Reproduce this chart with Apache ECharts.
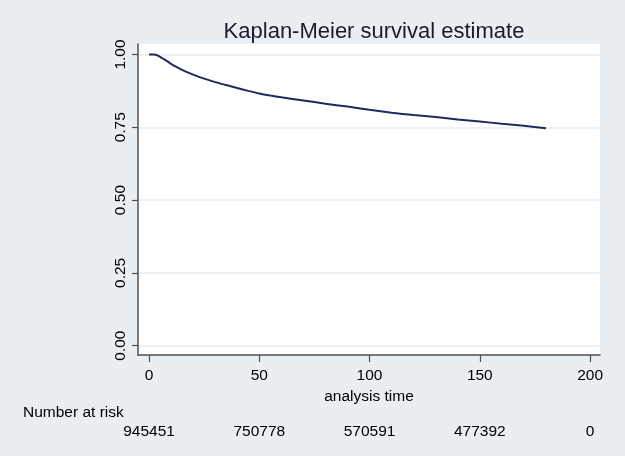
<!DOCTYPE html>
<html><head><meta charset="utf-8">
<script src="https://cdn.jsdelivr.net/npm/echarts@6/dist/echarts.min.js"></script>
<style>html,body{margin:0;padding:0;background:#e8eef1}#c{width:625px;height:456px}</style>
</head><body><div id="c"></div>
<script>
const titleText = 'Kaplan-Meier survival estimate';
const xAxisName = 'analysis time';
const riskLabel = 'Number at risk';
const timeValues = [0,1,2,3,4,5,6,8,10,12,15,18,20,25,30,35,40,45,50,55,60,70,80,90,100,110,120,130,140,150,160,170,180];
const survival   = [1,1,1,0.999,0.996,0.992,0.987,0.978,0.968,0.959,0.947,0.937,0.931,0.917,0.905,0.895,0.885,0.875,0.866,0.859,0.853,0.842,0.831,0.821,0.810,0.800,0.792,0.785,0.777,0.770,0.762,0.755,0.747];
const xTicks = [0,50,100,150,200];
const yTicks = [0,0.25,0.5,0.75,1];
const riskTimes = [0,50,100,150,200];
const numberAtRisk = [945451,750778,570591,477392,0];

const font = '"Liberation Sans", Arial, sans-serif';
const chart = echarts.init(document.getElementById('c'), null, {renderer:'canvas'});
const lineData = timeValues.map((t,i)=>[t, survival[i]]);
chart.setOption({
  backgroundColor: '#e8eef1',
  animation: false,
  textStyle: {fontFamily: font},
  title: {
    text: titleText, left: 369, top: 16, textAlign: 'center',
    textStyle: {fontFamily: font, fontSize: 22, fontWeight: 'normal', color: '#1a1a2e'}
  },
  grid: {left: 138, right: 25, top: 44, bottom: 101, show: true, backgroundColor: '#ffffff', borderWidth: 0},
  xAxis: [{
    type: 'value', min: -5, max: 204.5, position: 'bottom',
    name: xAxisName, nameLocation: 'middle', nameGap: 26,
    nameTextStyle: {fontFamily: font, fontSize: 15.5, color: '#000'},
    axisLine: {show: true, onZero: false, lineStyle: {color: '#505050', width: 1.5}},
    axisTick: {show: true, customValues: xTicks, length: 7, lineStyle: {color: '#505050', width: 1.2}},
    axisLabel: {customValues: xTicks, margin: 13, fontSize: 15.5, color: '#000', fontFamily: font},
    splitLine: {show: false}
  },{
    type: 'value', min: -5, max: 204.5, position: 'bottom', offset: 56,
    axisLine: {show: false}, axisTick: {show: false}, splitLine: {show: false},
    axisLabel: {customValues: riskTimes, margin: 13, fontSize: 15.5, color: '#000', fontFamily: font,
      formatter: v => { const i = riskTimes.indexOf(v); return i >= 0 ? String(numberAtRisk[i]) : ''; }}
  }],
  yAxis: {
    type: 'value', min: -0.032, max: 1.036,
    axisLine: {show: true, onZero: false, lineStyle: {color: '#505050', width: 1.5}},
    axisTick: {show: true, customValues: yTicks, length: 6, lineStyle: {color: '#505050', width: 1.2}},
    axisLabel: {customValues: yTicks, rotate: 90, margin: 9, fontSize: 15.5, color: '#000', fontFamily: font,
      formatter: v => v.toFixed(2)},
    splitLine: {show: true, lineStyle: {color: '#e4ecf1', width: 1.5}}
  },
  graphic: [{
    type: 'text', left: 23, top: 405,
    style: {text: riskLabel, font: '15.5px ' + font, fill: '#000'}
  }],
  series: [{
    type: 'line', xAxisIndex: 0, data: lineData, showSymbol: false, symbol: 'none',
    lineStyle: {color: '#1e2a5e', width: 2}, smooth: 0.2
  }]
});
</script></body></html>
